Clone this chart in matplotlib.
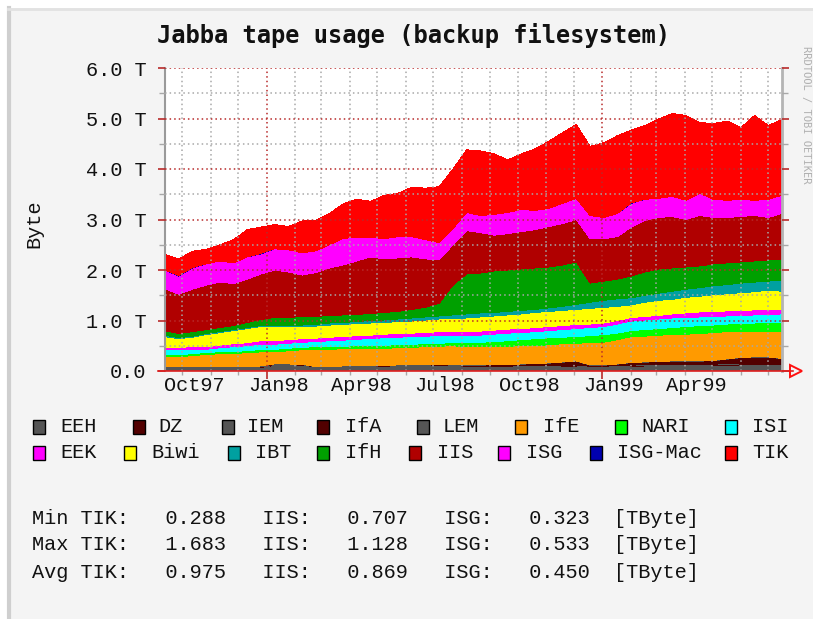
import numpy as np
import pandas as pd
import matplotlib
matplotlib.use("Agg")
import matplotlib.pyplot as plt
import matplotlib.dates as mdates
from matplotlib.patches import Rectangle
from matplotlib.lines import Line2D

# ---------------------------------------------------------------------------
# Tape usage per group, in TByte, sampled roughly every two weeks
# from mid September 1997 to mid July 1999 (stacked bottom -> top).
# ---------------------------------------------------------------------------
START, END, N = "1997-09-12", "1999-07-16", 46

EEH = [0.06, 0.06, 0.06, 0.06, 0.06, 0.07, 0.07, 0.07, 0.11, 0.11,
       0.10, 0.07, 0.07, 0.07, 0.07, 0.07, 0.08, 0.08, 0.08, 0.08,
       0.08, 0.08, 0.08, 0.08, 0.08, 0.08, 0.09, 0.09, 0.09, 0.09,
       0.09, 0.08, 0.08, 0.09, 0.09, 0.10, 0.10, 0.10, 0.10, 0.10,
       0.11, 0.11, 0.12, 0.12, 0.12, 0.12]
DZ = [0.00, 0.00, 0.00, 0.00, 0.00, 0.00, 0.00, 0.01, 0.00, 0.00,
      0.00, 0.00, 0.00, 0.00, 0.00, 0.00, 0.00, 0.01, 0.01, 0.01,
      0.01, 0.01, 0.00, 0.00, 0.00, 0.00, 0.00, 0.00, 0.00, 0.01,
      0.01, 0.00, 0.00, 0.00, 0.01, 0.01, 0.01, 0.01, 0.01, 0.01,
      0.01, 0.02, 0.02, 0.02, 0.02, 0.02]
IEM = [0.015, 0.015, 0.015, 0.015, 0.015, 0.015, 0.015, 0.015, 0.015, 0.015,
       0.015, 0.015, 0.015, 0.015, 0.015, 0.015, 0.015, 0.015, 0.015, 0.015,
       0.015, 0.015, 0.015, 0.015, 0.015, 0.015, 0.015, 0.015, 0.015, 0.015,
       0.015, 0.015, 0.015, 0.015, 0.015, 0.015, 0.015, 0.015, 0.015, 0.015,
       0.015, 0.015, 0.015, 0.015, 0.015, 0.015]
IfA = [0.00, 0.00, 0.00, 0.00, 0.00, 0.00, 0.00, 0.00, 0.01, 0.01,
       0.01, 0.00, 0.00, 0.01, 0.01, 0.01, 0.01, 0.01, 0.01, 0.01,
       0.02, 0.01, 0.02, 0.02, 0.03, 0.03, 0.03, 0.04, 0.05, 0.06,
       0.08, 0.02, 0.02, 0.03, 0.05, 0.05, 0.06, 0.07, 0.07, 0.07,
       0.07, 0.09, 0.11, 0.12, 0.12, 0.09]
LEM = [0.005, 0.005, 0.005, 0.005, 0.005, 0.005, 0.005, 0.005, 0.005, 0.005,
       0.005, 0.005, 0.005, 0.005, 0.005, 0.005, 0.005, 0.005, 0.005, 0.005,
       0.005, 0.005, 0.005, 0.005, 0.005, 0.005, 0.005, 0.005, 0.005, 0.005,
       0.005, 0.005, 0.005, 0.005, 0.005, 0.005, 0.005, 0.005, 0.005, 0.005,
       0.005, 0.005, 0.005, 0.005, 0.005, 0.005]
IfE = [0.20, 0.21, 0.22, 0.25, 0.26, 0.26, 0.27, 0.28, 0.24, 0.26,
       0.29, 0.34, 0.34, 0.34, 0.34, 0.35, 0.34, 0.34, 0.35, 0.36,
       0.36, 0.38, 0.36, 0.36, 0.36, 0.36, 0.36, 0.35, 0.36, 0.36,
       0.35, 0.44, 0.45, 0.48, 0.51, 0.51, 0.52, 0.52, 0.53, 0.54,
       0.55, 0.54, 0.51, 0.50, 0.51, 0.53]
NARI = [0.04, 0.04, 0.04, 0.04, 0.04, 0.04, 0.04, 0.05, 0.05, 0.05,
        0.05, 0.05, 0.05, 0.05, 0.06, 0.06, 0.06, 0.06, 0.06, 0.06,
        0.06, 0.06, 0.08, 0.09, 0.09, 0.11, 0.12, 0.14, 0.14, 0.13,
        0.13, 0.14, 0.15, 0.13, 0.12, 0.13, 0.13, 0.14, 0.15, 0.16,
        0.15, 0.15, 0.16, 0.17, 0.17, 0.17]
ISI = [0.10, 0.09, 0.09, 0.06, 0.08, 0.09, 0.10, 0.10, 0.10, 0.10,
       0.10, 0.10, 0.12, 0.12, 0.13, 0.13, 0.15, 0.15, 0.15, 0.15,
       0.15, 0.14, 0.14, 0.14, 0.15, 0.15, 0.14, 0.14, 0.14, 0.15,
       0.16, 0.16, 0.16, 0.18, 0.19, 0.19, 0.19, 0.19, 0.18, 0.17,
       0.17, 0.16, 0.16, 0.16, 0.16, 0.18]
EEK = [0.05, 0.05, 0.05, 0.05, 0.05, 0.06, 0.06, 0.07, 0.07, 0.07,
       0.07, 0.07, 0.07, 0.07, 0.07, 0.07, 0.07, 0.07, 0.07, 0.07,
       0.08, 0.08, 0.08, 0.08, 0.08, 0.08, 0.08, 0.08, 0.08, 0.08,
       0.08, 0.07, 0.07, 0.07, 0.07, 0.07, 0.07, 0.08, 0.09, 0.10,
       0.10, 0.10, 0.10, 0.10, 0.10, 0.09]
Biwi = [0.21, 0.17, 0.19, 0.24, 0.25, 0.26, 0.28, 0.28, 0.28, 0.26,
        0.25, 0.24, 0.24, 0.24, 0.24, 0.24, 0.23, 0.24, 0.24, 0.25,
        0.25, 0.26, 0.27, 0.28, 0.28, 0.28, 0.29, 0.30, 0.30, 0.30,
        0.30, 0.31, 0.31, 0.28, 0.25, 0.28, 0.30, 0.29, 0.31, 0.31,
        0.33, 0.34, 0.35, 0.36, 0.38, 0.36]
IBT = [0.03, 0.02, 0.02, 0.02, 0.02, 0.02, 0.02, 0.02, 0.02, 0.02,
       0.02, 0.03, 0.04, 0.04, 0.04, 0.05, 0.05, 0.05, 0.06, 0.06,
       0.06, 0.07, 0.08, 0.08, 0.07, 0.07, 0.07, 0.06, 0.07, 0.08,
       0.10, 0.12, 0.14, 0.15, 0.14, 0.14, 0.14, 0.16, 0.16, 0.17,
       0.18, 0.18, 0.19, 0.19, 0.18, 0.22]
IfH = [0.09, 0.08, 0.09, 0.08, 0.08, 0.08, 0.10, 0.12, 0.16, 0.16,
       0.17, 0.16, 0.15, 0.15, 0.14, 0.14, 0.15, 0.15, 0.17, 0.19,
       0.25, 0.59, 0.79, 0.79, 0.82, 0.82, 0.82, 0.82, 0.81, 0.82,
       0.84, 0.38, 0.38, 0.39, 0.43, 0.46, 0.48, 0.46, 0.44, 0.43,
       0.43, 0.43, 0.42, 0.42, 0.42, 0.42]
IIS = [0.83, 0.78, 0.84, 0.88, 0.90, 0.83, 0.86, 0.90, 0.94, 0.90,
       0.82, 0.87, 0.94, 0.99, 1.06, 1.12, 1.06, 1.06, 1.04, 0.96,
       0.86, 0.80, 0.86, 0.80, 0.71, 0.72, 0.74, 0.76, 0.80, 0.82,
       0.84, 0.88, 0.84, 0.84, 0.97, 1.02, 1.02, 1.02, 0.94, 1.00,
       0.92, 0.90, 0.90, 0.90, 0.84, 0.90]
ISG = [0.37, 0.36, 0.42, 0.42, 0.42, 0.41, 0.44, 0.40, 0.42, 0.44,
       0.44, 0.43, 0.46, 0.53, 0.46, 0.39, 0.40, 0.42, 0.40, 0.38,
       0.34, 0.32, 0.36, 0.34, 0.41, 0.42, 0.44, 0.38, 0.36, 0.40,
       0.42, 0.46, 0.42, 0.46, 0.47, 0.42, 0.38, 0.40, 0.38, 0.44,
       0.36, 0.34, 0.34, 0.30, 0.36, 0.36]
ISG_Mac = [0.00, 0.01, 0.01, 0.00, 0.00, 0.00, 0.00, 0.01, 0.00, 0.00,
           0.00, 0.00, 0.00, 0.00, 0.00, 0.00, 0.00, 0.00, 0.00, 0.00,
           0.00, 0.00, 0.00, 0.00, 0.00, 0.00, 0.00, 0.00, 0.00, 0.00,
           0.00, 0.00, 0.00, 0.00, 0.01, 0.00, 0.00, 0.00, 0.00, 0.00,
           0.00, 0.00, 0.00, 0.00, 0.00, 0.00]
TIK = [0.31, 0.33, 0.32, 0.29, 0.32, 0.46, 0.54, 0.52, 0.48, 0.46,
       0.63, 0.60, 0.62, 0.68, 0.76, 0.71, 0.86, 0.86, 0.98, 1.02,
       1.11, 1.18, 1.24, 1.28, 1.20, 1.04, 1.10, 1.22, 1.33, 1.40,
       1.46, 1.37, 1.48, 1.54, 1.44, 1.46, 1.57, 1.64, 1.68, 1.40,
       1.50, 1.57, 1.42, 1.68, 1.46, 1.50]

LAYERS = [
    ("EEH", EEH, "#555555"), ("DZ", DZ, "#520000"), ("IEM", IEM, "#555555"),
    ("IfA", IfA, "#520000"), ("LEM", LEM, "#555555"), ("IfE", IfE, "#ff9a00"),
    ("NARI", NARI, "#00ff00"), ("ISI", ISI, "#00ffff"), ("EEK", EEK, "#ff00ff"),
    ("Biwi", Biwi, "#ffff00"), ("IBT", IBT, "#00a0a0"), ("IfH", IfH, "#00a000"),
    ("IIS", IIS, "#b00000"), ("ISG", ISG, "#ff00ff"), ("ISG-Mac", ISG_Mac, "#0000b0"),
    ("TIK", TIK, "#ff0000"),
]

Y_TICKS = [0, 1, 2, 3, 4, 5, 6]
Y_LABELS = ["0.0", "1.0 T", "2.0 T", "3.0 T", "4.0 T", "5.0 T", "6.0 T"]
X_LABELS = ["Oct97", "Jan98", "Apr98", "Jul98", "Oct98", "Jan99", "Apr99"]
X_LABEL_MONTHS = ["1997-10-01", "1998-01-01", "1998-04-01", "1998-07-01",
                  "1998-10-01", "1999-01-01", "1999-04-01"]

STATS = [
    ("Min", "0.288", "0.707", "0.323"),
    ("Max", "1.683", "1.128", "0.533"),
    ("Avg", "0.975", "0.869", "0.450"),
]

# ---------------------------------------------------------------------------
W, H = 813, 619
MONO = "Liberation Mono"
TITLE_FONT = "DejaVu Sans Mono"
TXT = 14.6
BG = "#f4f4f4"
MAJOR_RED = "#b82a2a"
MINOR_GRAY = "#a8a8a8"
INK = "#111111"

fig = plt.figure(figsize=(W / 100, H / 100), dpi=100)
fig.patch.set_facecolor(BG)


def fx(px):
    return px / W


def fy(py):
    return 1 - py / H


# outer frame of the canvas
fig.add_artist(Rectangle((0, fy(8)), 1, 1 - fy(8), transform=fig.transFigure,
                         facecolor="white", edgecolor="none", zorder=0))
fig.add_artist(Rectangle((0, 0), fx(7), 1, transform=fig.transFigure,
                         facecolor="white", edgecolor="none", zorder=0))
fig.add_artist(Line2D([fx(9), fx(9)], [0, fy(8)], transform=fig.transFigure,
                      color="#cfcfcf", lw=3, zorder=0))
fig.add_artist(Line2D([fx(8), 1], [fy(9), fy(9)], transform=fig.transFigure,
                      color="#e2e2e2", lw=2, zorder=0))

ax = fig.add_axes([fx(165), fy(371), fx(782) - fx(165), fy(68) - fy(371)])
ax.set_facecolor("white")

dates = pd.date_range(START, END, periods=N)
x = mdates.date2num(dates.to_pydatetime())

base = np.zeros(N)
for name, vals, col in LAYERS:
    top = base + np.asarray(vals, dtype=float)
    ax.fill_between(x, base, top, facecolor=col, edgecolor="none",
                    linewidth=0, antialiased=False, zorder=1)
    base = top

ax.set_xlim(x[0], x[-1])
ax.set_ylim(0, 6)

# y axis: major every 1 T (red), minor every 0.5 T (gray), ticks on both sides
ax.set_yticks(Y_TICKS)
ax.set_yticklabels(Y_LABELS, family=MONO, fontsize=TXT, color=INK)
ax.set_yticks([0.5, 1.5, 2.5, 3.5, 4.5, 5.5], minor=True)
ax.tick_params(axis="y", which="major", direction="out", length=5, width=1.2,
               color=MAJOR_RED, pad=8.5, left=True, right=True)
ax.tick_params(axis="y", which="minor", direction="out", length=4, width=1,
               color=MINOR_GRAY, left=True, right=True)

# x axis: red ticks at year starts, gray ticks at each month
ax.xaxis.set_major_locator(mdates.YearLocator())
ax.xaxis.set_minor_locator(mdates.MonthLocator(bymonth=range(2, 13)))
ax.set_xticklabels([])
ax.tick_params(axis="x", which="major", direction="out", length=6, width=1.2,
               color=MAJOR_RED, labelbottom=False)
ax.tick_params(axis="x", which="minor", direction="out", length=3, width=1,
               color=MINOR_GRAY)

dot = (0, (1, 2))
ax.set_axisbelow(False)
ax.grid(True, which="major", color=MAJOR_RED, linestyle=dot, linewidth=1.1)
ax.grid(True, which="minor", color=MINOR_GRAY, linestyle=dot, linewidth=1.1)

for lab, m in zip(X_LABELS, X_LABEL_MONTHS):
    xm = mdates.date2num(pd.Timestamp(m).to_pydatetime()) + 12.5
    ax.text(xm, -0.047, lab, transform=ax.get_xaxis_transform(),
            ha="center", va="center", family=MONO, fontsize=TXT, color=INK)

ax.spines["top"].set_visible(False)
ax.spines["left"].set_color("#9a9a9a")
ax.spines["left"].set_linewidth(1.5)
ax.spines["right"].set_color("#b4b4b4")
ax.spines["right"].set_linewidth(2)
ax.spines["bottom"].set_visible(False)

# x axis line with the open arrow head at the right end
fig.add_artist(Line2D([fx(158), fx(793)], [fy(371), fy(371)],
                      transform=fig.transFigure, color="#dd2020", lw=1.2, zorder=5))
fig.add_artist(Line2D([fx(796)], [fy(371)], transform=fig.transFigure,
                      marker=">", markersize=9, markerfacecolor="none",
                      markeredgecolor="#ff1010", markeredgewidth=1.4, zorder=5))

# titles
fig.text(fx(413), fy(35), "Jabba tape usage (backup filesystem)", ha="center",
         va="center", family=TITLE_FONT, fontsize=17, fontweight="bold", color=INK)
fig.text(fx(34), fy(224), "Byte", rotation=90, ha="center", va="center",
         family=MONO, fontsize=TXT, color=INK)
fig.text(fx(806), fy(115), "RRDTOOL / TOBI OETIKER", rotation=-90, ha="center",
         va="center", family=TITLE_FONT, fontsize=7.5, color="#b0b0b0")

# legend
colors = {name: col for name, _, col in LAYERS}
legend_rows = [
    (427, [("EEH", 33, 60), ("DZ", 133, 158), ("IEM", 222, 247), ("IfA", 317, 345),
           ("LEM", 417, 443), ("IfE", 515, 543), ("NARI", 615, 641), ("ISI", 725, 752)]),
    (453, [("EEK", 33, 60), ("Biwi", 124, 151), ("IBT", 228, 255), ("IfH", 317, 345),
           ("IIS", 409, 437), ("ISG", 498, 526), ("ISG-Mac", 590, 617), ("TIK", 725, 752)]),
]
for ycen, items in legend_rows:
    for name, bx, tx in items:
        fig.add_artist(Rectangle((fx(bx), fy(ycen + 7)), 12 / W, 14 / H,
                                 transform=fig.transFigure, facecolor=colors[name],
                                 edgecolor="black", linewidth=1.0))
        fig.text(fx(tx), fy(ycen), name, ha="left", va="center", family=MONO,
                 fontsize=TXT, color=INK)

# min / max / average summary
for i, (kind, tik, iis, isg) in enumerate(STATS):
    line = f"{kind} TIK:   {tik}   IIS:   {iis}   ISG:   {isg}  [TByte]"
    fig.text(fx(32), fy(518 + 27 * i), line, ha="left", va="center", family=MONO,
             fontsize=TXT, color=INK)

fig.savefig("out.png", dpi=100, facecolor=fig.get_facecolor())
